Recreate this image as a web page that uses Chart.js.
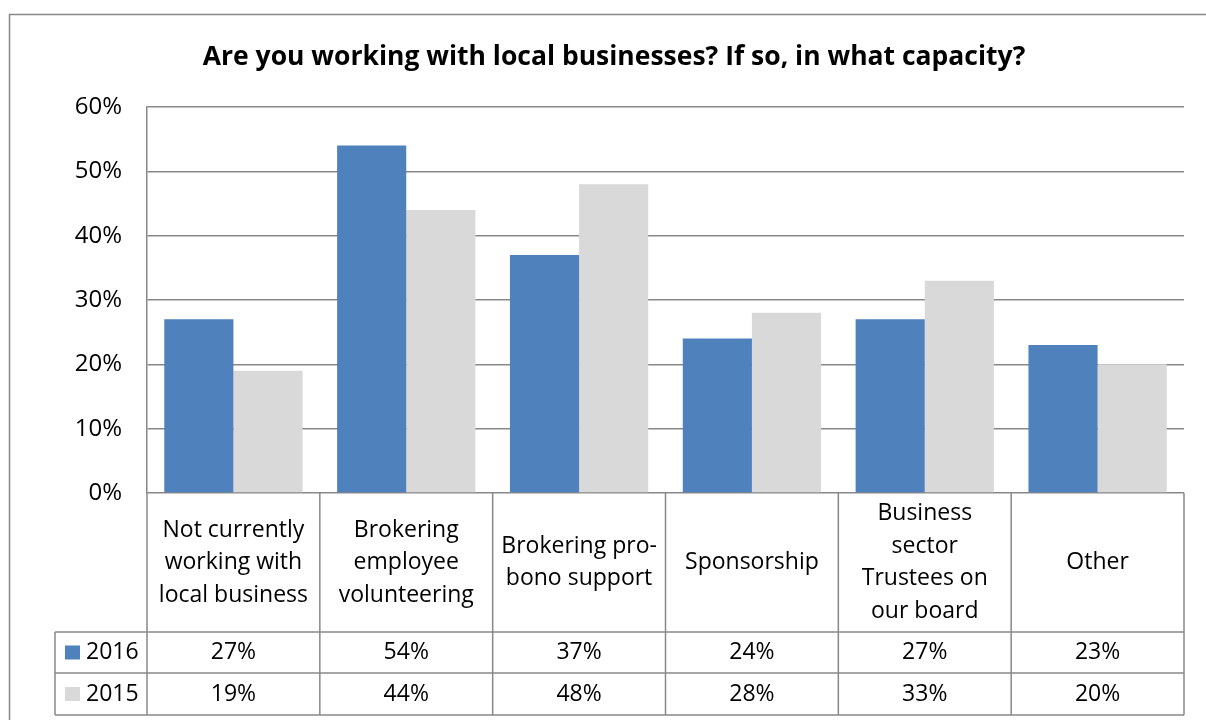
<!DOCTYPE html>
<html>
<head>
<meta charset="utf-8">
<script src="https://cdn.jsdelivr.net/npm/chart.js@4.4.0/dist/chart.umd.min.js"></script>
<style>
  html, body { margin: 0; padding: 0; background: #fff; }
</style>
</head>
<body>
<canvas id="chart" width="1206" height="720"></canvas>
<script>
// Survey answers, one entry per category (lines as shown in the table header)
const categories = [
    ['Not currently', 'working with', 'local business'],
    ['Brokering', 'employee', 'volunteering'],
    ['Brokering pro-', 'bono support'],
    ['Sponsorship'],
    ['Business', 'sector', 'Trustees on', 'our board'],
    ['Other']
];
const seriesNames = ['2016', '2015'];
const values2016 = [27, 54, 37, 24, 27, 23];
const values2015 = [19, 44, 48, 28, 33, 20];
const yTicks = [0, 10, 20, 30, 40, 50, 60];
const chartTitle = 'Are you working with local businesses? If so, in what capacity?';

const FONT = '"Open Sans", Carlito, Calibri, sans-serif';
const LINE = '#888888';
const colors = ['#4F81BD', '#D9D9D9'];
const series = [values2016, values2015];

// Frame, title and the data table under the plot
const dataTable = {
    id: 'dataTable',
    beforeDraw(chart) {
        const { ctx, width, height } = chart;
        ctx.save();
        ctx.fillStyle = '#fff';
        ctx.fillRect(0, 0, width, height);
        ctx.strokeStyle = LINE;
        ctx.lineWidth = 1.5;
        ctx.strokeRect(9.5, 14.5, width + 20, height + 20);

        ctx.fillStyle = '#000';
        ctx.font = 'bold 26.5px ' + FONT;
        ctx.textAlign = 'center';
        ctx.textBaseline = 'middle';
        ctx.fillText(chartTitle, 614, 57);
        ctx.restore();
    },
    afterDraw(chart) {
        const { ctx, chartArea, scales } = chart;
        const x = scales.x;
        const n = categories.length;
        const step = (chartArea.right - chartArea.left) / n;
        const top = chartArea.bottom;
        const headBottom = top + 139;
        const rowH = [41, 42];
        const legendLeft = 55;

        ctx.save();
        ctx.strokeStyle = LINE;
        ctx.lineWidth = 1.5;

        // horizontal rules
        const rowTops = [headBottom];
        rowH.forEach(h => rowTops.push(rowTops[rowTops.length - 1] + h));
        rowTops.forEach(yy => {
            ctx.beginPath();
            ctx.moveTo(legendLeft, yy);
            ctx.lineTo(chartArea.right, yy);
            ctx.stroke();
        });
        const tableBottom = rowTops[rowTops.length - 1];

        // vertical rules
        for (let i = 0; i <= n; i++) {
            const xx = chartArea.left + i * step;
            ctx.beginPath();
            ctx.moveTo(xx, top);
            ctx.lineTo(xx, tableBottom);
            ctx.stroke();
        }
        ctx.beginPath();
        ctx.moveTo(legendLeft, headBottom);
        ctx.lineTo(legendLeft, tableBottom);
        ctx.stroke();

        ctx.fillStyle = '#000';
        ctx.font = '23px ' + FONT;
        ctx.textAlign = 'center';
        ctx.textBaseline = 'middle';

        // category headers
        const lineH = 32.5;
        const headMid = (top + headBottom) / 2;
        categories.forEach((lines, i) => {
            const cx = x.getPixelForValue(i);
            const y0 = headMid - (lines.length - 1) * lineH / 2;
            lines.forEach((t, j) => ctx.fillText(t, cx, y0 + j * lineH));
        });

        // series rows
        series.forEach((vals, r) => {
            const mid = (rowTops[r] + rowTops[r + 1]) / 2;
            ctx.fillStyle = colors[r];
            ctx.fillRect(65, mid - 7, 15, 14);
            ctx.fillStyle = '#000';
            ctx.textAlign = 'left';
            ctx.fillText(seriesNames[r], 86, mid);
            ctx.textAlign = 'center';
            vals.forEach((v, i) => ctx.fillText(v + '%', x.getPixelForValue(i), mid));
        });
        ctx.restore();
    }
};

const ctx = document.getElementById('chart').getContext('2d');
new Chart(ctx, {
    type: 'bar',
    data: {
        labels: categories,
        datasets: series.map((vals, i) => ({
            label: seriesNames[i],
            data: vals,
            backgroundColor: colors[i],
            borderWidth: 0,
            categoryPercentage: 0.8,
            barPercentage: 1.0
        }))
    },
    options: {
        responsive: false,
        animation: false,
        layout: { padding: { top: 107, right: 22, bottom: 227, left: 0 } },
        plugins: {
            legend: { display: false },
            tooltip: { enabled: false }
        },
        scales: {
            x: { display: false },
            y: {
                min: yTicks[0],
                max: yTicks[yTicks.length - 1],
                afterFit: axis => { axis.width = 147; },
                ticks: {
                    stepSize: yTicks[1] - yTicks[0],
                    padding: 25,
                    color: '#000',
                    font: { family: FONT, size: 24 },
                    callback: v => v + '%'
                },
                grid: { color: LINE, lineWidth: 1.5, drawTicks: false },
                border: { display: true, color: LINE, width: 1.5 }
            }
        }
    },
    plugins: [dataTable]
});
</script>
</body>
</html>
